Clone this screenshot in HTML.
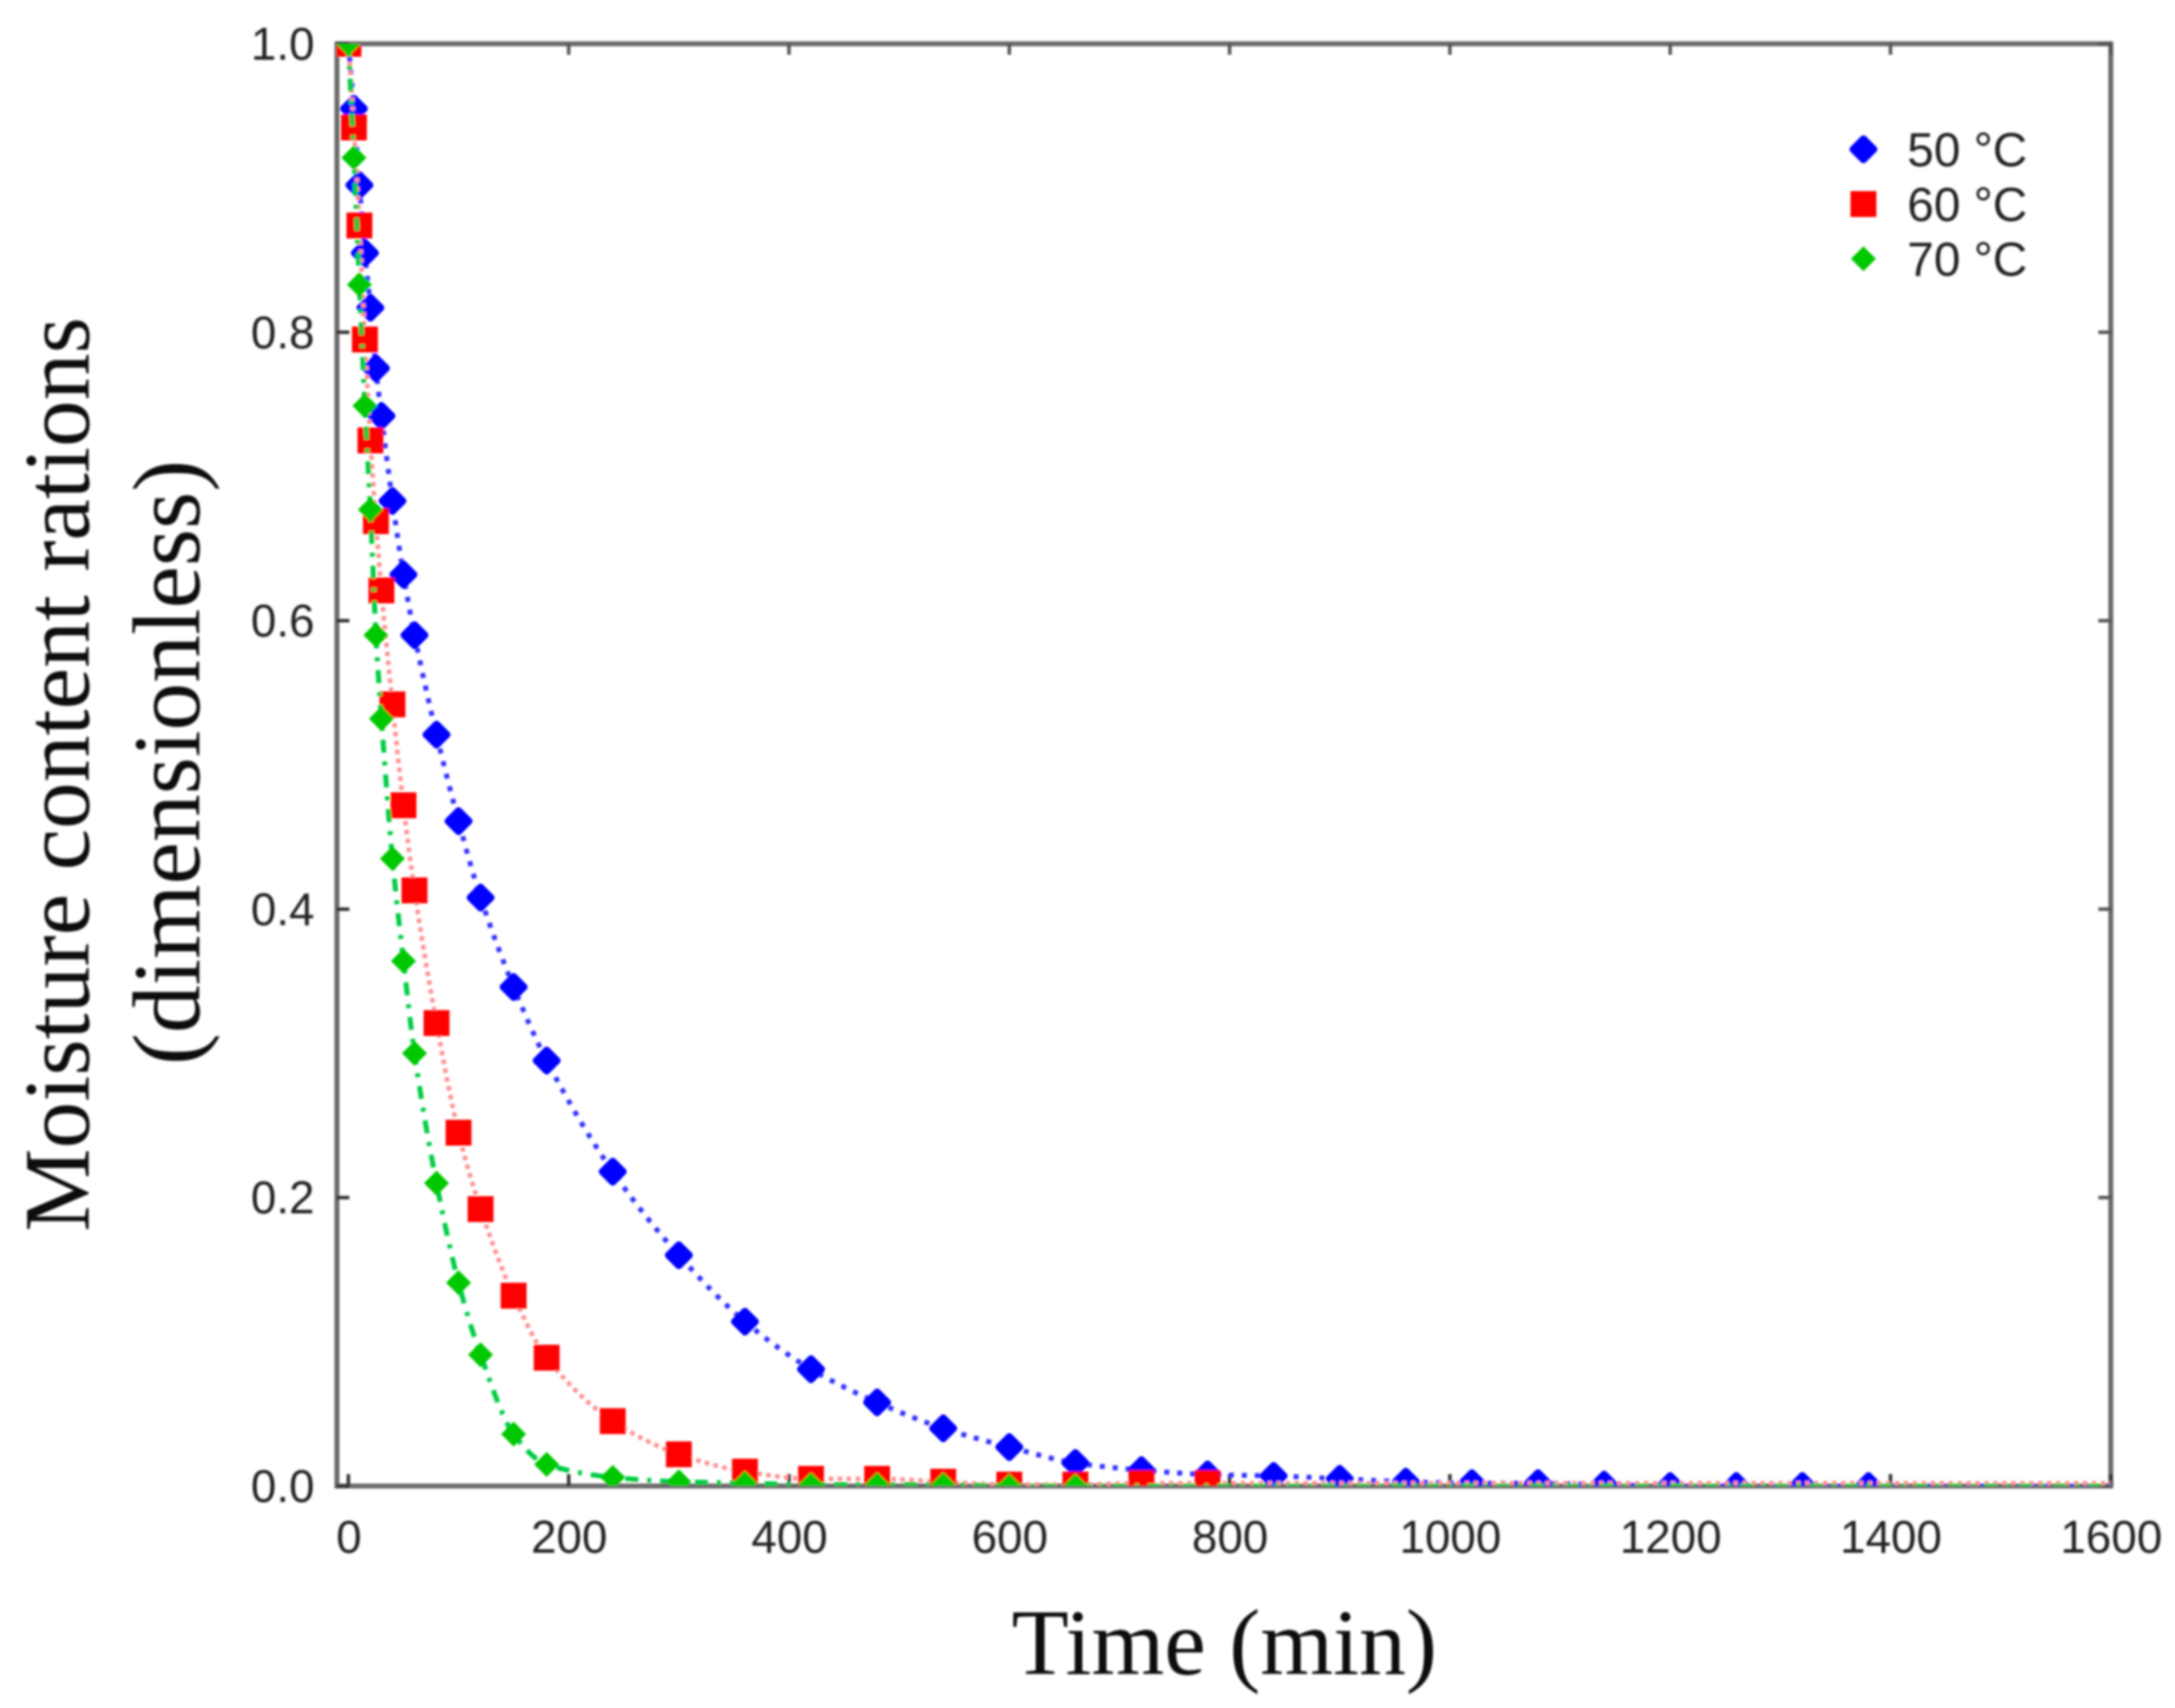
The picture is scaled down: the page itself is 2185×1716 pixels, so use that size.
<!DOCTYPE html>
<html lang="en">
<head>
<meta charset="utf-8">
<title>Moisture content ratio vs time</title>
<style>
html,body{margin:0;padding:0;background:#fff;}
svg{display:block;}
text{fill:#222;}
.tick-label{font-family:"Liberation Sans",sans-serif;font-size:46px;}
.legend-label{font-family:"Liberation Sans",sans-serif;font-size:48px;}
.axis-title{font-family:"Liberation Serif",serif;font-size:94px;fill:#111;}
</style>
</head>
<body>
<svg id="chart" xmlns="http://www.w3.org/2000/svg" width="2185" height="1716" viewBox="0 0 2185 1716">
  <defs>
    <filter id="soft" x="-2%" y="-2%" width="104%" height="104%"><feGaussianBlur stdDeviation="1.1"/></filter>
    <clipPath id="plot-clip"><rect x="338" y="44" width="1783" height="1449"/></clipPath>
  </defs>
  <rect width="2185" height="1716" fill="#fff"/>
  <g id="root" filter="url(#soft)">
    <g id="frame"></g>
    <g id="series" clip-path="url(#plot-clip)"></g>
    <g id="labels"></g>
    <g id="legend"></g>
    <text class="axis-title" x="1230" y="1682" text-anchor="middle">Time (min)</text>
    <text class="axis-title" transform="translate(89,778) rotate(-90)" text-anchor="middle">Moisture content rations</text>
    <text class="axis-title" transform="translate(200,766) rotate(-90)" text-anchor="middle" style="font-size:96px">(dimensionless)</text>
  </g>
</svg>
<script>
const xTicks = [0, 200, 400, 600, 800, 1000, 1200, 1400, 1600];
const yTicks = [0.0, 0.2, 0.4, 0.6, 0.8, 1.0];
const legendLabels = ['50 °C', '60 °C', '70 °C'];

const times = [0, 5, 10, 15, 20, 25, 30, 40, 50, 60, 80, 100, 120, 150, 180, 240, 300, 360, 420, 480, 540, 600, 660, 720, 780, 840, 900, 960, 1020, 1080, 1140, 1200, 1260, 1320, 1380];
const values50 = [1.0, 0.955, 0.902, 0.855, 0.817, 0.775, 0.742, 0.683, 0.632, 0.590, 0.521, 0.461, 0.408, 0.346, 0.295, 0.218, 0.160, 0.114, 0.081, 0.058, 0.040, 0.027, 0.016, 0.011, 0.008, 0.007, 0.005, 0.003, 0.002, 0.002, 0.001, 0.0, 0.0, 0.0, 0.0];
const values60 = [1.0, 0.942, 0.874, 0.795, 0.725, 0.669, 0.621, 0.542, 0.472, 0.413, 0.321, 0.245, 0.192, 0.132, 0.089, 0.045, 0.022, 0.010, 0.005, 0.005, 0.003, 0.001, 0.001, 0.002, 0.002];
const values70 = [1.0, 0.921, 0.833, 0.749, 0.677, 0.590, 0.532, 0.435, 0.364, 0.300, 0.210, 0.141, 0.091, 0.036, 0.015, 0.006, 0.003, 0.002, 0.001, 0.001, 0.001, 0.0, 0.0];

const NS = 'http://www.w3.org/2000/svg';
const xAxis = t => 350 + t * (2120.5 - 350) / 1600;
const yAxis = v => 1493 - v * (1493 - 44);

function make(tag, attrs, parent) {
  const el = document.createElementNS(NS, tag);
  for (const k in attrs) el.setAttribute(k, attrs[k]);
  parent.appendChild(el);
  return el;
}

const frame = document.getElementById('frame');
const seriesLayer = document.getElementById('series');
const labels = document.getElementById('labels');
const legend = document.getElementById('legend');

const border = make('rect', {x: 338.5, y: 44, width: 1782, height: 1449, fill: 'none', stroke: '#6a6a6a', 'stroke-width': 5}, frame);



xTicks.forEach(t => {
  const x = xAxis(t);
  const bottom = make('line', {x1: x, x2: x, y1: 1493, y2: 1481, stroke: '#333', 'stroke-width': 3.5}, frame);
  
  
  const top = make('line', {x1: x, x2: x, y1: 44, y2: 55, stroke: '#555', 'stroke-width': 3.5}, frame);
  
  
  const label = make('text', {class: 'tick-label', x: x + 0.5, y: 1560, 'text-anchor': 'middle'}, labels);
  label.textContent = String(t);
  
  
});

yTicks.forEach(v => {
  const y = yAxis(v);
  const left = make('line', {x1: 338, x2: 351, y1: y, y2: y, stroke: '#333', 'stroke-width': 3.5}, frame);
  
  
  const right = make('line', {x1: 2121, x2: 2108, y1: y, y2: y, stroke: '#555', 'stroke-width': 3.5}, frame);
  
  
  const label = make('text', {class: 'tick-label', x: 316, y: y + 16, 'text-anchor': 'end'}, labels);
  label.textContent = v.toFixed(1);
  
  
});

function marker(kind, cx, cy, parent) {
  let el;
  if (kind === 'square') {
    el = make('rect', {x: cx - 13, y: cy - 13, width: 26, height: 26, fill: '#ff0000'}, parent);
  } else if (kind === 'big-diamond') {
    el = make('polygon', {points: `${cx-10.5},${cy} ${cx},${cy-10.5} ${cx+10.5},${cy} ${cx},${cy+10.5}`, fill: '#0000ff', stroke: '#0000ff', 'stroke-width': 7, 'stroke-linejoin': 'round'}, parent);
  } else {
    el = make('polygon', {points: `${cx-11.5},${cy} ${cx},${cy-11.5} ${cx+11.5},${cy} ${cx},${cy+11.5}`, fill: '#00c800', stroke: '#00c800', 'stroke-width': 1.5}, parent);
  }
  return el;
}

function smoothPath(pts) {
  const n = pts.length;
  const d = [];
  for (let i = 0; i < n - 1; i++) d.push((pts[i + 1][1] - pts[i][1]) / (pts[i + 1][0] - pts[i][0]));
  const m = [d[0]];
  for (let i = 1; i < n - 1; i++) {
    m.push(d[i - 1] * d[i] <= 0 ? 0 : 2 * d[i - 1] * d[i] / (d[i - 1] + d[i]));
  }
  m.push(d[n - 2]);
  let out = 'M' + pts[0][0] + ' ' + pts[0][1];
  for (let i = 0; i < n - 1; i++) {
    const h = (pts[i + 1][0] - pts[i][0]) / 3;
    out += ' C' + (pts[i][0] + h) + ' ' + (pts[i][1] + m[i] * h) + ' ' + (pts[i + 1][0] - h) + ' ' + (pts[i + 1][1] - m[i + 1] * h) + ' ' + pts[i + 1][0] + ' ' + pts[i + 1][1];
  }
  return out;
}

function drawSeries(name, values, kind, lineColor, dash, width) {
  const group = make('g', {}, seriesLayer);
  
  
  const pts = values.map((v, i) => [xAxis(times[i]), yAxis(v)]);
  pts.push([xAxis(xTicks[xTicks.length - 1]), yAxis(values[values.length - 1])]);
  const line = make('path', {d: smoothPath(pts), fill: 'none', stroke: lineColor, 'stroke-width': width, 'stroke-dasharray': dash}, group);
  
  
  values.forEach((v, i) => {
    const m = marker(kind, xAxis(times[i]), yAxis(v), group);
    
    
  });
}

drawSeries('series-50c', values50, 'big-diamond', '#3030ff', '5 8', 5);
drawSeries('series-60c', values60, 'square', '#ff9090', '4.5 4.5', 4.5);
drawSeries('series-70c', values70, 'diamond', '#00cc44', '13 9 4 9', 5);

const legendKinds = ['big-diamond', 'square', 'diamond'];
legendLabels.forEach((txt, i) => {
  const cy = 150 + i * 55;
  const m = marker(legendKinds[i], 1872, cy, legend);
  
  
  const label = make('text', {class: 'legend-label', x: 1916, y: cy + 17}, legend);
  label.textContent = txt;
  
  
});
</script>
</body>
</html>
